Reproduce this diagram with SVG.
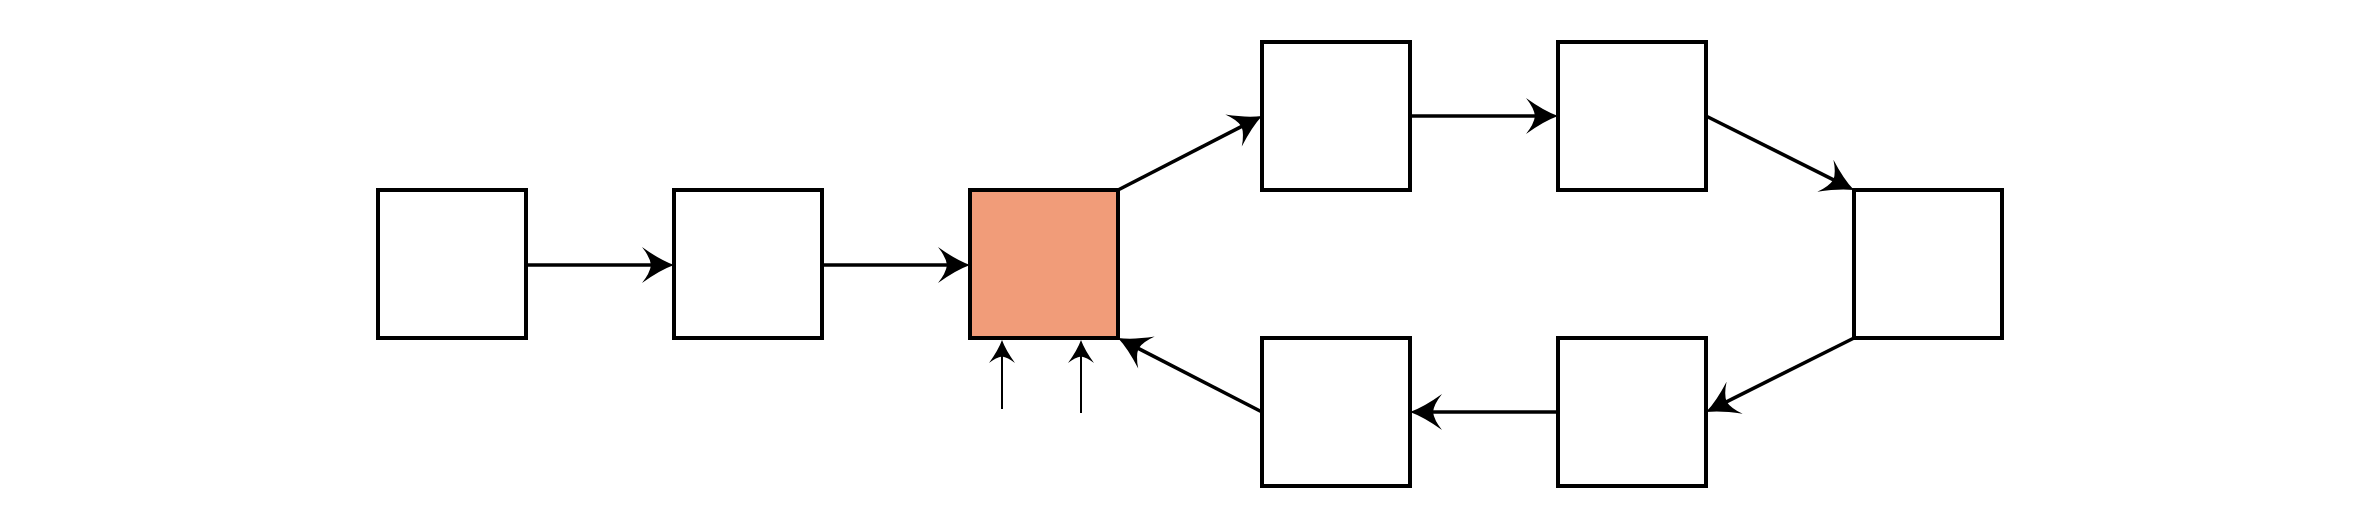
<svg xmlns="http://www.w3.org/2000/svg" width="2380" height="528" viewBox="0 0 2380 528">
  <style>
    .box { fill: #ffffff; stroke: #000000; stroke-width: 4; }
    .hot { fill: #F19C79; }
    .edge { fill: none; stroke: #000000; stroke-width: 3.5; }
    .thin { fill: none; stroke: #000000; stroke-width: 2; }
  </style>
  <defs>
    <marker id="arrow" markerUnits="userSpaceOnUse" viewBox="0 -20 40 40" markerWidth="40" markerHeight="40" refX="12" refY="0" orient="auto" overflow="visible">
      <path d="M32,0 Q18,-5 0,-18 Q8,-8 9,0 Q8,8 0,18 Q18,5 32,0 Z" fill="#000000"/>
    </marker>
    <marker id="arrowSmall" markerUnits="userSpaceOnUse" viewBox="0 -15 30 30" markerWidth="30" markerHeight="30" refX="9" refY="0" orient="auto" overflow="visible">
      <path d="M23,0 Q13,-3.6 0,-13 Q5.8,-5.8 6.5,0 Q5.8,5.8 0,13 Q13,3.6 23,0 Z" fill="#000000"/>
    </marker>
  </defs>
  <rect width="2380" height="528" fill="#ffffff"/>

  <g id="connectors">
    <path class="edge" d="M526,265 L654,265" marker-end="url(#arrow)"/>
    <path class="edge" d="M822,265 L950,265" marker-end="url(#arrow)"/>
    <path class="edge" d="M1118,190 L1244.2,125.1" marker-end="url(#arrow)"/>
    <path class="edge" d="M1410,116 L1538,116" marker-end="url(#arrow)"/>
    <path class="edge" d="M1706,116 L1836.1,181.1" marker-end="url(#arrow)"/>
    <path class="edge" d="M1854,338 L1723.9,403.1" marker-end="url(#arrow)"/>
    <path class="edge" d="M1558,412 L1430,412" marker-end="url(#arrow)"/>
    <path class="edge" d="M1262,412 L1135.8,347.1" marker-end="url(#arrow)"/>
    <path class="thin" d="M1002,409 L1002,354" marker-end="url(#arrowSmall)"/>
    <path class="thin" d="M1081,413 L1081,354" marker-end="url(#arrowSmall)"/>
  </g>

  <g id="node1"><rect class="box" x="378" y="190" width="148" height="148"/></g>
  <g id="node2"><rect class="box" x="674" y="190" width="148" height="148"/></g>
  <g id="node3"><rect class="box hot" x="970" y="190" width="148" height="148"/></g>
  <g id="node4"><rect class="box" x="1262" y="42" width="148" height="148"/></g>
  <g id="node5"><rect class="box" x="1558" y="42" width="148" height="148"/></g>
  <g id="node6"><rect class="box" x="1854" y="190" width="148" height="148"/></g>
  <g id="node7"><rect class="box" x="1558" y="338" width="148" height="148"/></g>
  <g id="node8"><rect class="box" x="1262" y="338" width="148" height="148"/></g>
</svg>
